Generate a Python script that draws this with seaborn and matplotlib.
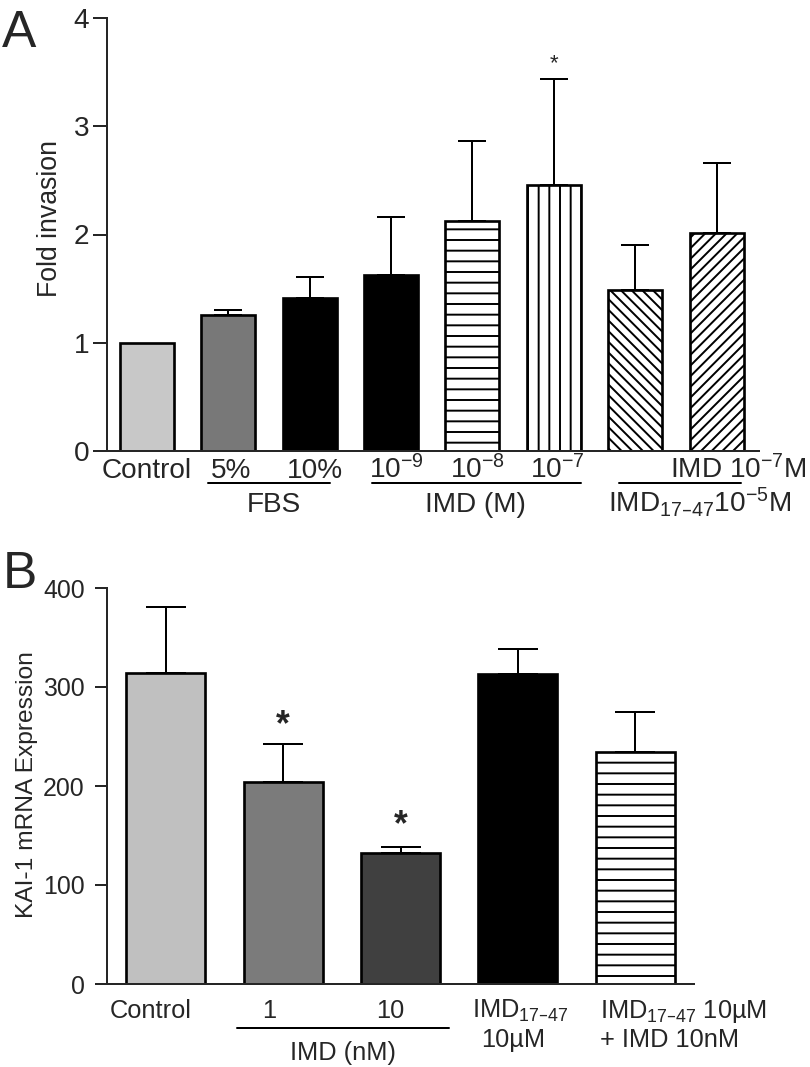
import numpy as np
import matplotlib
matplotlib.use("Agg")
import matplotlib.pyplot as plt
import seaborn as sns

# ---- data: panel A (fold invasion) ----
a_groups = ["Control", "FBS 5%", "FBS 10%", "IMD 1e-9", "IMD 1e-8", "IMD 1e-7",
            "IMD17-47", "IMD17-47 + IMD"]
a_means = [1.0, 1.255, 1.41, 1.625, 2.125, 2.46, 1.485, 2.01]
a_sem = [0.0, 0.045, 0.20, 0.54, 0.74, 0.98, 0.42, 0.65]
a_ticklabels = ["Control", "5%", "10%", "10$^{-9}$", "10$^{-8}$", "10$^{-7}$"]

# ---- data: panel B (KAI-1 mRNA) ----
b_groups = ["Control", "IMD 1nM", "IMD 10nM", "IMD17-47", "IMD17-47 + IMD"]
b_means = [314, 204, 132, 313, 234]
b_sem = [67, 38, 6, 25, 41]

# styles
a_colors = ["#c8c8c8", "#787878", "#000000", "#000000", "white", "white", "white", "white"]
a_hatches = ["", "", "", "", "-", "|", "\\\\", "//"]
b_colors = ["#c0c0c0", "#7b7b7b", "#404040", "#000000", "white"]
b_hatches = ["", "", "", "", "-"]

DPI = 64
W, H = 810, 1067

sns.set_style("ticks")
plt.rcParams["font.family"] = ["Liberation Sans", "DejaVu Sans"]
plt.rcParams["mathtext.default"] = "regular"
plt.rcParams["hatch.linewidth"] = 2.2
plt.rcParams["axes.linewidth"] = 2.25


def draw_bars(ax, groups, means, sem, colors, hatches, width, capsize):
    sns.barplot(x=groups, y=means, hue=groups, palette=dict(zip(groups, colors)),
                width=width, edgecolor="black", linewidth=3, legend=False,
                errorbar=None, ax=ax)
    for patch, h in zip(ax.patches, hatches):
        patch.set_hatch(h)
    pos = np.arange(len(groups))
    err = np.array(sem, dtype=float)
    keep = err > 0
    ax.errorbar(pos[keep], np.array(means)[keep], yerr=[np.zeros(keep.sum()), err[keep]],
                fmt="none", ecolor="black", elinewidth=2.25, capsize=capsize,
                capthick=2.25, zorder=5)
    sns.despine(ax=ax)
    ax.set_xticks([])
    ax.set_xlabel("")


fig = plt.figure(figsize=(W / DPI, H / DPI), dpi=DPI)

# ---------------- panel A ----------------
ax_a = fig.add_axes([107 / W, 1 - 451 / H, 652 / W, 433 / H])
draw_bars(ax_a, a_groups, a_means, a_sem, a_colors, a_hatches, 0.663, 16)
ax_a.set_xlim(-0.49, 7.52)
ax_a.set_ylim(0, 4)
ax_a.set_yticks([0, 1, 2, 3, 4])
ax_a.tick_params(axis="y", length=15.5, width=2.25, pad=4.5, labelsize=31.5)
ax_a.set_ylabel("Fold invasion", fontsize=30)
ax_a.yaxis.set_label_coords(-0.068, 0.538)

ta = ax_a.get_xaxis_transform()
row1, row_line, row2 = -0.0624, -0.0739, -0.141
a_label_x = [0.0, 1.03, 2.06, 3.07, 4.06, 5.04]
for x, lab in zip(a_label_x, a_ticklabels):
    ax_a.text(x, row1, lab, transform=ta, ha="center", va="baseline", fontsize=31.5)
ax_a.text(8.1, row1, "IMD 10$^{-7}$M", transform=ta, ha="right", va="baseline", fontsize=31.5)
for x0, x1 in [(0.75, 2.25), (2.76, 5.33), (5.80, 7.30)]:
    ax_a.plot([x0, x1], [row_line, row_line], transform=ta, color="black", lw=2.25, clip_on=False)
ax_a.text(1.56, row2, "FBS", transform=ta, ha="center", va="baseline", fontsize=31.5)
ax_a.text(4.04, row2, "IMD (M)", transform=ta, ha="center", va="baseline", fontsize=31.5)
ax_a.text(5.66, row2, "IMD$_{17\u201347}$10$^{-5}$M", transform=ta, ha="left",
          va="baseline", fontsize=31.5)
ax_a.text(5, 3.53, "*", ha="center", va="baseline", fontsize=25)

# ---------------- panel B ----------------
ax_b = fig.add_axes([107 / W, 1 - 984 / H, 587 / W, 396 / H])
draw_bars(ax_b, b_groups, b_means, b_sem, b_colors, b_hatches, 0.674, 22)
ax_b.set_xlim(-0.5, 4.5)
ax_b.set_ylim(0, 400)
ax_b.set_yticks([0, 100, 200, 300, 400])
ax_b.tick_params(axis="y", length=13.5, width=2.25, pad=11.5, labelsize=28)
ax_b.set_ylabel("KAI-1 mRNA Expression", fontsize=27.5)
ax_b.yaxis.set_label_coords(-0.1175, 0.503)

fs = 28.5
tb = ax_b.get_xaxis_transform()
b_row1, b_row2, b_line, b_row3 = -0.0859, -0.159, -0.111, -0.192
ax_b.text(-0.13, b_row1, "Control", transform=tb, ha="center", va="baseline", fontsize=fs)
ax_b.text(0.88, b_row1, "1", transform=tb, ha="center", va="baseline", fontsize=fs)
ax_b.text(1.91, b_row1, "10", transform=tb, ha="center", va="baseline", fontsize=fs)
ax_b.text(2.61, b_row1, "IMD$_{17\u201347}$", transform=tb, ha="left", va="baseline", fontsize=fs)
ax_b.text(2.96, b_row2, "10\u00b5M", transform=tb, ha="center", va="baseline", fontsize=fs)
ax_b.text(3.70, b_row1, "IMD$_{17\u201347}$ 10\u00b5M", transform=tb, ha="left",
          va="baseline", fontsize=fs)
ax_b.text(3.70, b_row2, "+ IMD 10nM", transform=tb, ha="left", va="baseline", fontsize=fs)
ax_b.plot([0.61, 2.41], [b_line, b_line], transform=tb, color="black", lw=2.25, clip_on=False)
ax_b.text(1.51, b_row3, "IMD (nM)", transform=tb, ha="center", va="baseline", fontsize=fs)
for x, y in [(1, 251), (2, 150)]:
    ax_b.text(x, y, "*", ha="center", va="baseline", fontsize=40, fontweight="bold")

# panel letters
fig.text(2 / W, 1 - 47 / H, "A", fontsize=58, ha="left", va="baseline")
fig.text(3 / W, 1 - 588 / H, "B", fontsize=58, ha="left", va="baseline")

fig.savefig("out.png", dpi=DPI)
